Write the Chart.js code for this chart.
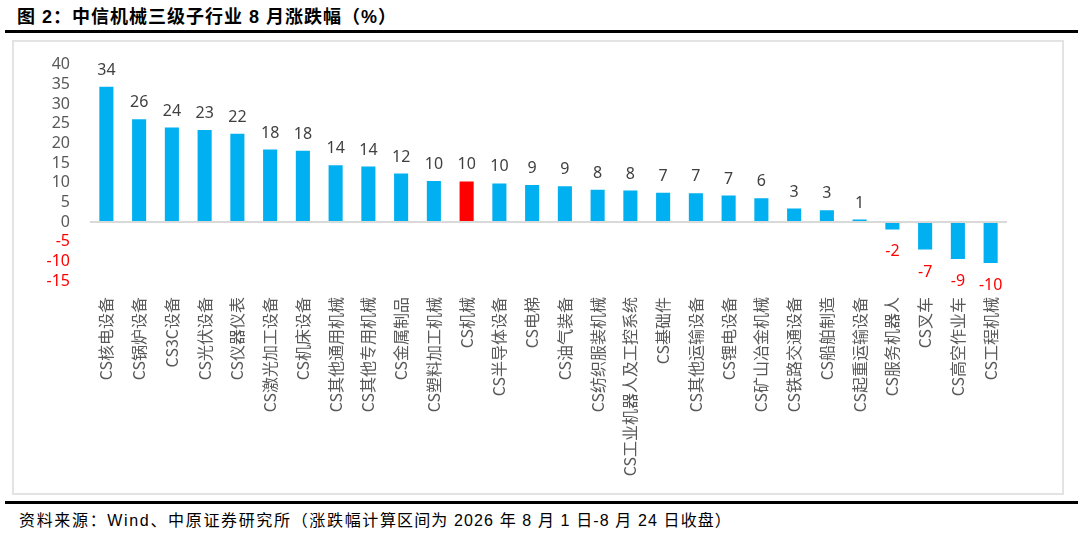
<!DOCTYPE html>
<html>
<head>
<meta charset="utf-8">
<script src="https://cdn.jsdelivr.net/npm/chart.js@4/dist/chart.umd.min.js"></script>
<style>
  html, body { margin:0; padding:0; background:#fff; }
  body { width:1078px; height:533px; position:relative; overflow:hidden; font-family:"Noto Sans CJK SC", sans-serif; }
  .fit { position:absolute; white-space:nowrap; display:inline-block; }
  #title { left:17px; top:2px; font-size:18px; font-weight:bold; color:#000; font-family:"Liberation Sans","Noto Sans CJK SC",sans-serif; }
  #topline { position:absolute; left:5px; top:30px; width:1073px; height:3px; background:#000; }
  #box { position:absolute; left:12px; top:40px; width:1048px; height:451px; border:2px solid #e3e3e3; }
  #wrap { position:absolute; left:12px; top:35px; width:1050px; height:458px; }
  #botline { position:absolute; left:5px; top:501px; width:1073px; height:3px; background:#000; }
  .foot { top:507px; font-size:16px; color:#000; font-family:"Liberation Sans","Noto Sans CJK SC",sans-serif; }
  #foot1 { left:19px; }
  #foot2 { left:380px; }
</style>
</head>
<body>
<div id="title" class="fit" data-w="380">图 2：中信机械三级子行业 8 月涨跌幅（%）</div>
<div id="topline"></div>
<div id="box"></div>
<div id="wrap"><canvas id="c"></canvas></div>
<div id="botline"></div>
<div id="foot1" class="fit foot" data-w="361">资料来源：Wind、中原证券研究所（涨跌幅计</div>
<div id="foot2" class="fit foot" data-w="352">算区间为 2026 年 8 月 1 日-8 月 24 日收盘）</div>
<script>
// stretch header/footer text to the widths seen in the reference
document.querySelectorAll(".fit").forEach(el => {
  const target = parseFloat(el.dataset.w);
  const n = Array.from(el.textContent).length;
  const natural = el.getBoundingClientRect().width;
  el.style.letterSpacing = ((target - natural) / n) + "px";
});

const categories = ["CS核电设备","CS锅炉设备","CS3C设备","CS光伏设备","CS仪器仪表","CS激光加工设备","CS机床设备","CS其他通用机械","CS其他专用机械","CS金属制品","CS塑料加工机械","CS机械","CS半导体设备","CS电梯","CS油气装备","CS纺织服装机械","CS工业机器人及工控系统","CS基础件","CS其他运输设备","CS锂电设备","CS矿山冶金机械","CS铁路交通设备","CS船舶制造","CS起重运输设备","CS服务机器人","CS叉车","CS高空作业车","CS工程机械"];
const changePct = [34.4,26.1,24.0,23.4,22.4,18.4,18.1,14.4,14.1,12.3,10.4,10.3,9.8,9.4,9.1,8.2,8.0,7.4,7.3,6.7,6.0,3.4,3.0,0.6,-1.9,-7.0,-9.4,-10.4];
const highlightCategory = "CS机械";
const yTicksMin = -15, yTicksMax = 40, yTicksStep = 5;

const BLUE = "#00B0F0", RED = "#FF0000", GRAY = "#595959", LABEL = "#404040";

const valueLabels = {
  id: "valueLabels",
  afterDatasetsDraw(chart) {
    const ctx = chart.ctx;
    const meta = chart.getDatasetMeta(0);
    ctx.save();
    ctx.font = "16px 'Noto Sans', sans-serif";
    ctx.textAlign = "center";
    ctx.textBaseline = "alphabetic";
    meta.data.forEach((el, i) => {
      const v = chart.data.datasets[0].data[i];
      const txt = String(Math.round(v));
      if (v >= 0) {
        ctx.fillStyle = LABEL;
        ctx.fillText(txt, el.x, el.y - 12);
      } else {
        ctx.fillStyle = RED;
        ctx.fillText(txt, el.x, el.y + 27);
      }
    });
    ctx.restore();
  }
};

new Chart(document.getElementById("c"), {
  type: "bar",
  data: {
    labels: categories,
    datasets: [{
      data: changePct,
      backgroundColor: categories.map(c => c === highlightCategory ? RED : BLUE),
      borderWidth: 0,
      barPercentage: 0.43,
      categoryPercentage: 1.0
    }]
  },
  options: {
    responsive: true,
    maintainAspectRatio: false,
    animation: false,
    layout: { padding: { left: 0, right: 55, top: 0, bottom: 0 } },
    plugins: { legend: { display: false }, tooltip: { enabled: false } },
    scales: {
      x: {
        grid: { display: false },
        border: { display: false },
        ticks: {
          autoSkip: false, minRotation: 90, maxRotation: 90, padding: 8,
          color: GRAY,
          font: { family: "'Noto Sans CJK SC', sans-serif", size: 16 }
        },
        afterFit(scale) { scale.height = 212; }
      },
      y: {
        min: yTicksMin, max: yTicksMax,
        border: { display: false },
        grid: {
          drawTicks: false,
          lineWidth: 2,
          color: ctx => (ctx.tick && ctx.tick.value === 0) ? "#D9D9D9" : "rgba(0,0,0,0)"
        },
        ticks: {
          stepSize: yTicksStep, padding: 20, autoSkip: false,
          color: ctx => (ctx.tick && ctx.tick.value < 0) ? RED : GRAY,
          font: { family: "'Noto Sans', sans-serif", size: 16 }
        },
        afterFit(scale) { scale.width = 78; }
      }
    }
  },
  plugins: [valueLabels]
});
</script>
</body>
</html>
